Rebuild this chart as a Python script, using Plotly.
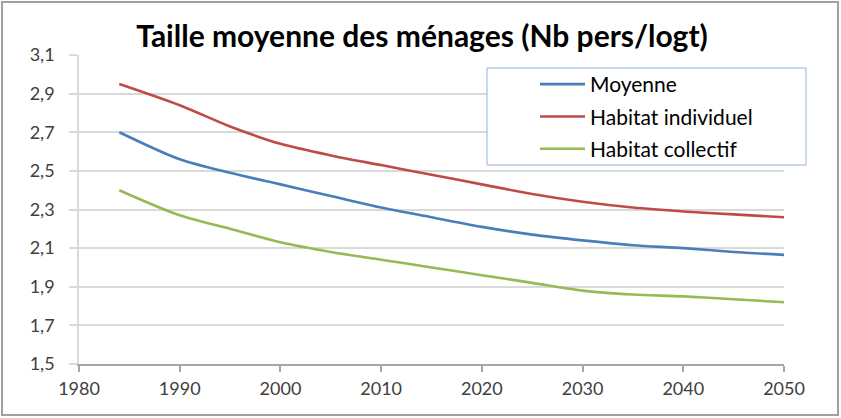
import plotly.graph_objects as go

years = [1984, 1990, 1995, 2000, 2005, 2010, 2015, 2020, 2025, 2030, 2035, 2040, 2045, 2050]
moyenne = [2.70, 2.56, 2.49, 2.43, 2.37, 2.31, 2.26, 2.21, 2.17, 2.14, 2.115, 2.10, 2.08, 2.065]
individuel = [2.95, 2.84, 2.73, 2.64, 2.58, 2.53, 2.48, 2.43, 2.38, 2.34, 2.31, 2.29, 2.275, 2.26]
collectif = [2.40, 2.27, 2.20, 2.13, 2.08, 2.04, 2.00, 1.96, 1.92, 1.88, 1.86, 1.85, 1.835, 1.82]

series_names = ["Moyenne", "Habitat individuel", "Habitat collectif"]
series_values = [moyenne, individuel, collectif]
series_colors = ["#4a7ebb", "#be4b48", "#98b954"]

x_ticks = [1980, 1990, 2000, 2010, 2020, 2030, 2040, 2050]
y_ticks = [1.5, 1.7, 1.9, 2.1, 2.3, 2.5, 2.7, 2.9, 3.1]

W, H = 841, 418
L, R, T, B = 79, 57, 55, 54
pw, ph = W - L - R, H - T - B

fig = go.Figure()
for i, (name, vals, col) in enumerate(zip(series_names, series_values, series_colors)):
    fig.add_trace(go.Scatter(x=years, y=vals, name=name, mode="lines",
                             line=dict(color=col, width=2.6, shape="spline", smoothing=0.8),
                             legendgroup=str(i)))

def px2paper_x(px):
    return (px - L) / pw

def px2paper_y(py):
    return 1 - (py - T) / ph

font_family = "Lato, 'Open Sans', sans-serif"

fig.update_layout(
    width=W, height=H,
    margin=dict(l=L, r=R, t=T, b=B),
    paper_bgcolor="white", plot_bgcolor="white",
    separators=", ",
    title=dict(text="<b>Taille moyenne des ménages (Nb pers/logt)</b>",
               x=422 / W, xanchor="center", y=1 - 36 / H, yanchor="middle",
               font=dict(family=font_family, size=30, color="#000000")),
    xaxis=dict(range=[1980, 2050], tickvals=x_ticks, ticktext=[str(v) for v in x_ticks],
               showgrid=False, zeroline=False, showline=True, linecolor="#a6a6a6", linewidth=1.5,
               ticks="outside", ticklen=6, tickcolor="#a6a6a6", tickwidth=1.5,
               ticklabelstandoff=2,
               tickfont=dict(family=font_family, size=18, color="#404040")),
    yaxis=dict(range=[1.5, 3.1], tickvals=y_ticks, tickformat=".1f",
               showgrid=True, gridcolor="#d9d9d9", gridwidth=2, zeroline=False,
               showline=True, linecolor="#d9d9d9", linewidth=1.5,
               ticks="outside", ticklen=8, tickcolor="#d9d9d9", tickwidth=2,
               ticklabelstandoff=11,
               tickfont=dict(family=font_family, size=18, color="#404040")),
    legend=dict(x=px2paper_x(535), y=px2paper_y(64), xanchor="left", yanchor="top",
                bgcolor="rgba(0,0,0,0)", borderwidth=0, traceorder="grouped",
                tracegroupgap=2, itemwidth=45,
                font=dict(family=font_family, size=21, color="#000000")),
    showlegend=True,
    shapes=[
        dict(type="rect", xref="paper", yref="paper",
             x0=px2paper_x(487), x1=px2paper_x(806), y0=px2paper_y(165), y1=px2paper_y(68),
             line=dict(color="#95b3d7", width=1), fillcolor="white", layer="above"),
        dict(type="rect", xref="paper", yref="paper",
             x0=px2paper_x(2), x1=px2paper_x(838), y0=px2paper_y(415), y1=px2paper_y(2),
             line=dict(color="#a0a0a0", width=2), fillcolor="rgba(0,0,0,0)", layer="above"),
    ],
)

fig.write_html("out.html", config={"displayModeBar": False},
               post_script="document.body.style.margin='0';")
